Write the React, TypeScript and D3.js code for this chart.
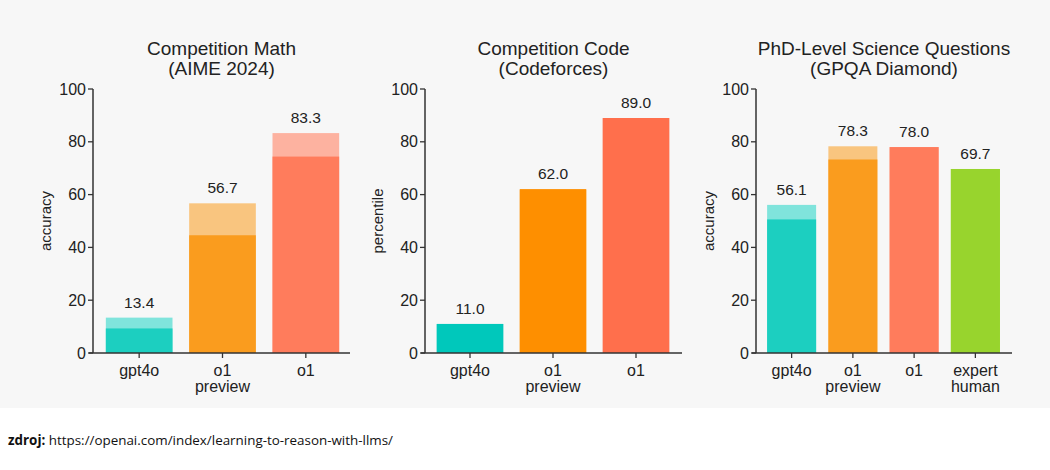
import React from "react";
import * as d3 from "d3";

const mathCategories = ["gpt4o", "o1 preview", "o1"];
const mathBase = [9.3, 44.6, 74.4];
const mathTotal = [13.4, 56.7, 83.3];
const mathDark = ["#1ccfc0", "#fa9c1e", "#ff7c5c"];
const mathLight = ["#80e4dc", "#f9c57f", "#fdb2a0"];

const codeCategories = ["gpt4o", "o1 preview", "o1"];
const codeBase = [11.0, 62.0, 89.0];
const codeTotal = [11.0, 62.0, 89.0];
const codeDark = ["#00c8bb", "#fe8f00", "#ff6f4c"];
const codeLight = ["#00c8bb", "#fe8f00", "#ff6f4c"];

const gpqaCategories = ["gpt4o", "o1 preview", "o1", "expert human"];
const gpqaBase = [50.6, 73.3, 78.0, 69.7];
const gpqaTotal = [56.1, 78.3, 78.0, 69.7];
const gpqaDark = ["#1ccfc0", "#fa9c1e", "#ff7c5c", "#98d42d"];
const gpqaLight = ["#80e4dc", "#f9c57f", "#fdb2a0", "#98d42d"];

const yTicks = [0, 20, 40, 60, 80, 100];

const FONT = "'Liberation Sans', Arial, sans-serif";
const INK = "#222";

type PanelProps = {
  title: string[];
  yLabel: string;
  categories: string[];
  base: number[];
  total: number[];
  dark: string[];
  light: string[];
  axisX: number;
  axisEnd: number;
  range: [number, number];
};

function Panel(p: PanelProps) {
  const y = d3.scaleLinear().domain([0, 100]).range([353, 89]);
  const x = d3.scaleBand<string>().domain(p.categories).range(p.range).paddingInner(0.2).paddingOuter(0.1);
  const cx = (p.axisX + p.axisEnd) / 2;
  return (
    <g fontFamily={FONT} fill={INK}>
      <text x={cx} y={55} textAnchor="middle" fontSize={19}>{p.title[0]}</text>
      <text x={cx} y={75} textAnchor="middle" fontSize={19}>{p.title[1]}</text>
      <text transform={`translate(${p.axisX - 42},${221}) rotate(-90)`} textAnchor="middle" fontSize={15}>{p.yLabel}</text>
      {p.categories.map((c, i) => {
        const bx = x(c)!;
        const bw = x.bandwidth();
        return (
          <g key={c + i}>
            <rect x={bx} width={bw} y={y(p.total[i])} height={y(0) - y(p.total[i])} fill={p.light[i]} />
            <rect x={bx} width={bw} y={y(p.base[i])} height={y(0) - y(p.base[i])} fill={p.dark[i]} />
            <text x={bx + bw / 2} y={y(p.total[i]) - 10} textAnchor="middle" fontSize={15.5}>{p.total[i].toFixed(1)}</text>
            <line x1={bx + bw / 2} x2={bx + bw / 2} y1={353} y2={358} stroke="#333" strokeWidth={1.3} />
            {c.split(" ").map((w, k) => (
              <text key={k} x={bx + bw / 2} y={376 + k * 16} textAnchor="middle" fontSize={16}>{w}</text>
            ))}
          </g>
        );
      })}
      <line x1={p.axisX} x2={p.axisX} y1={89} y2={353} stroke="#333" strokeWidth={1.5} />
      <line x1={p.axisX - 4} x2={p.axisEnd} y1={353} y2={353} stroke="#333" strokeWidth={1.5} />
      {yTicks.map((t) => (
        <g key={t}>
          <line x1={p.axisX - 5} x2={p.axisX} y1={y(t)} y2={y(t)} stroke="#333" strokeWidth={1.3} />
          <text x={p.axisX - 7} y={y(t) + 5.5} textAnchor="end" fontSize={16}>{t}</text>
        </g>
      ))}
    </g>
  );
}

export default function App() {
  return (
    <div>
      <style>{`body{margin:0;background:#fff}`}</style>
      <svg width={1050} height={470} style={{ display: "block" }}>
        <rect x={0} y={0} width={1050} height={408} fill="#f7f7f7" />
        <Panel title={["Competition Math", "(AIME 2024)"]} yLabel="accuracy" categories={mathCategories}
          base={mathBase} total={mathTotal} dark={mathDark} light={mathLight}
          axisX={93} axisEnd={350} range={[97.5, 347.5]} />
        <Panel title={["Competition Code", "(Codeforces)"]} yLabel="percentile" categories={codeCategories}
          base={codeBase} total={codeTotal} dark={codeDark} light={codeLight}
          axisX={425} axisEnd={682} range={[428.5, 677.5]} />
        <Panel title={["PhD-Level Science Questions", "(GPQA Diamond)"]} yLabel="accuracy" categories={gpqaCategories}
          base={gpqaBase} total={gpqaTotal} dark={gpqaDark} light={gpqaLight}
          axisX={756} axisEnd={1012} range={[761, 1006]} />
        <text x={8} y={445} fontFamily="'Open Sans', sans-serif" fontSize={13.4} fill="#111">
          <tspan fontWeight="bold">zdroj:</tspan>
          <tspan> https://openai.com/index/learning-to-reason-with-llms/</tspan>
        </text>
      </svg>
    </div>
  );
}
